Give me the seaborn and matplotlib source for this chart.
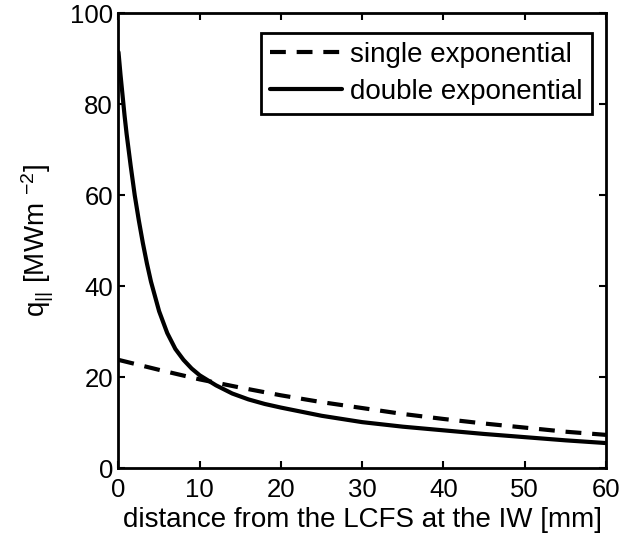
import matplotlib
matplotlib.use("Agg")
import matplotlib.pyplot as plt
import seaborn as sns
import pandas as pd

# Data
x_single = [0, 5, 10, 15, 20, 25, 30, 35, 40, 45, 50, 55, 60]
q_single = [23.8, 21.6, 19.5, 17.7, 16.0, 14.5, 13.2, 11.9, 10.8, 9.8, 8.9, 8.0, 7.3]

x_double = [0, 0.25, 0.5, 0.75, 1, 1.5, 2, 2.5, 3, 3.5, 4, 5, 6, 7, 8, 9, 10,
            12, 14, 16, 18, 20, 25, 30, 35, 40, 45, 50, 55, 60]
q_double = [91.5, 86.5, 82, 77.5, 73.5, 66.5, 60, 54.5, 49.5, 45.0, 41, 34.5,
            29.7, 26.2, 23.8, 21.9, 20.4, 18.2, 16.4, 15.1, 14.1, 13.3, 11.5,
            10.1, 9.1, 8.3, 7.5, 6.8, 6.1, 5.5]

x_ticks = [0, 10, 20, 30, 40, 50, 60]
y_ticks = [0, 20, 40, 60, 80, 100]

sns.set_style("ticks")
plt.rcParams['font.family'] = ['Liberation Sans', 'DejaVu Sans']
plt.rcParams['mathtext.default'] = 'regular'
plt.rcParams['text.color'] = 'black'
plt.rcParams['axes.labelcolor'] = 'black'
plt.rcParams['xtick.color'] = 'black'
plt.rcParams['ytick.color'] = 'black'

fig = plt.figure(figsize=(6.2, 5.38), dpi=100)
ax = fig.add_axes([0.1911, 0.130, 0.7863, 0.845])

df_s = pd.DataFrame({"x": x_single, "q": q_single})
df_d = pd.DataFrame({"x": x_double, "q": q_double})

sns.lineplot(data=df_s, x="x", y="q", ax=ax, color="black", lw=3,
             label="single exponential")
ax.lines[-1].set_dashes((3.8, 2.6))
sns.lineplot(data=df_d, x="x", y="q", ax=ax, color="black", lw=3,
             label="double exponential")

ax.set_xlim(0, 60)
ax.set_ylim(0, 100)
ax.set_xticks(x_ticks)
ax.set_yticks(y_ticks)
ax.tick_params(direction="in", top=True, right=True, labelsize=18.5,
               width=1.5, length=5, color="black", labelcolor="black")
ax.tick_params(axis="x", pad=7)
ax.tick_params(axis="y", pad=4)
for s in ax.spines.values():
    s.set_linewidth(2)
    s.set_color("black")

ax.set_xlabel("distance from the LCFS at the IW [mm]", fontsize=20, labelpad=4)
ax.set_ylabel(r"q$_{||}$ [MWm $^{-2}$]", fontsize=20, labelpad=10)

leg = ax.legend(loc="upper right", bbox_to_anchor=(0.971, 0.957),
                fontsize=20, frameon=True, fancybox=False,
                handlelength=2.6, handletextpad=0.3, borderpad=0.32,
                labelspacing=0.4, borderaxespad=0.0)
leg.get_frame().set_edgecolor("black")
leg.get_frame().set_linewidth(2)
leg.get_frame().set_alpha(1)
for t in leg.get_texts():
    t.set_color("black")

fig.savefig("out.png", dpi=100)
